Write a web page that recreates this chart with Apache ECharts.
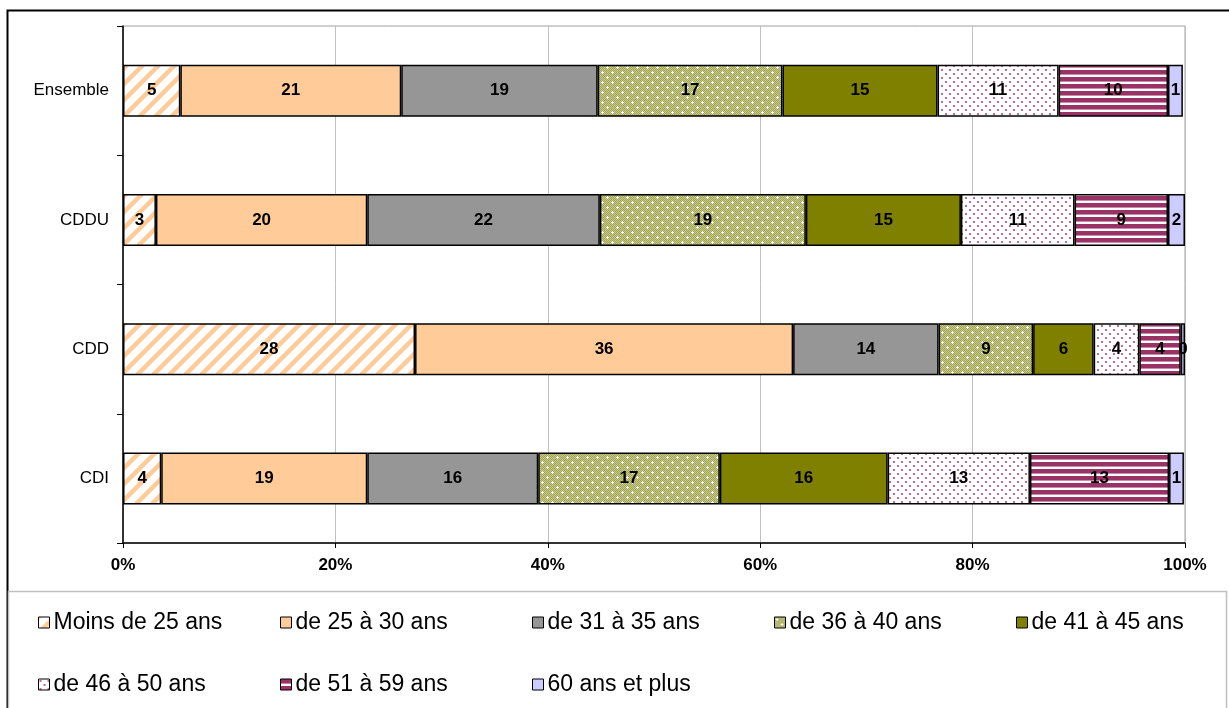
<!DOCTYPE html>
<html>
<head>
<meta charset="utf-8">
<script src="https://cdn.jsdelivr.net/npm/echarts@6/dist/echarts.min.js"></script>
<style>html,body{margin:0;padding:0;background:#fff}#c{width:1229px;height:708px}</style>
</head>
<body>
<div id="c"></div>
<script>
// ---- data ----
const categories = ['CDI', 'CDD', 'CDDU', 'Ensemble'];
const ageGroups = ['Moins de 25 ans', 'de 25 à 30 ans', 'de 31 à 35 ans', 'de 36 à 40 ans',
  'de 41 à 45 ans', 'de 46 à 50 ans', 'de 51 à 59 ans', '60 ans et plus'];
const sMoins25 = [3.6, 27.5, 3.1, 5.4];
const s25a30 = [19.4, 35.6, 19.9, 20.8];
const s31a35 = [16.1, 13.7, 21.9, 18.5];
const s36a40 = [17.1, 8.9, 19.4, 17.4];
const s41a45 = [15.8, 5.7, 14.6, 14.6];
const s46a50 = [13.4, 4.3, 10.7, 11.4];
const s51a59 = [13.1, 3.9, 8.8, 10.3];
const s60plus = [1.4, 0.4, 1.6, 1.4];
const xTicks = [0, 20, 40, 60, 80, 100];

const seriesValues = [sMoins25, s25a30, s31a35, s36a40, s41a45, s46a50, s51a59, s60plus];

// ---- patterns ----
function tile(w, h, draw) {
  const c = document.createElement('canvas');
  c.width = w; c.height = h;
  const g = c.getContext('2d');
  draw(g, w, h);
  return { image: c, repeat: 'repeat' };
}
const pDiag = tile(16, 16, (g, w, h) => {
  g.fillStyle = '#ffffff'; g.fillRect(0, 0, w, h);
  g.strokeStyle = '#FFCC99'; g.lineWidth = 4.5;
  g.beginPath();
  g.moveTo(-8, 8); g.lineTo(8, -8);
  g.moveTo(0, 16); g.lineTo(16, 0);
  g.moveTo(8, 24); g.lineTo(24, 8);
  g.stroke();
});
const pOlive = tile(10, 10, (g, w, h) => {
  g.fillStyle = '#C6C890'; g.fillRect(0, 0, w, h);
  g.fillStyle = '#A2A552';
  for (let y = 0; y < h; y++) for (let x = 0; x < w; x++) if ((x + y) % 2 === 0) g.fillRect(x, y, 1, 1);
  g.fillStyle = '#ffffff';
  [[2, 2], [7, 7]].forEach(([cx, cy]) => {
    g.fillRect(cx - 1, cy, 3, 1); g.fillRect(cx, cy - 1, 1, 3);
  });
});
const pDots = tile(8, 8, (g, w, h) => {
  g.fillStyle = '#ffffff'; g.fillRect(0, 0, w, h);
  g.fillStyle = '#C46A95';
  g.fillRect(1, 1, 2, 2); g.fillRect(5, 5, 2, 2);
});
const pStripes = tile(4, 7, (g, w, h) => {
  g.fillStyle = '#ffffff'; g.fillRect(0, 0, w, h);
  g.fillStyle = '#993366'; g.fillRect(0, 0, w, 4);
  g.fillStyle = '#C98BA8'; g.fillRect(0, 4, w, 1);
});
const fills = [pDiag, '#FFCC99', '#969696', pOlive, '#808000', pDots, pStripes, '#CCCCFF'];

const FONT = 'Liberation Sans, Arial, sans-serif';

const series = ageGroups.map((name, i) => ({
  name: name,
  type: 'bar',
  stack: 'total',
  barWidth: 52,
  data: seriesValues[i],
  itemStyle: { color: fills[i], borderColor: '#000', borderWidth: 1.5 },
  label: {
    show: true, position: 'inside', color: '#000', fontWeight: 'bold',
    fontSize: 17, fontFamily: FONT,
    formatter: p => Math.round(p.value)
  },
  emphasis: { disabled: true }
}));

const legendPos = [
  [38, 611], [280, 611], [532, 611], [774, 611], [1016, 611],
  [38, 673], [280, 673], [532, 673]
];
const legends = ageGroups.map((name, i) => ({
  data: [{ name: name, icon: 'rect' }],
  left: legendPos[i][0], top: legendPos[i][1],
  padding: 0, itemWidth: 11, itemHeight: 11, itemGap: 0,
  selectedMode: false,
  itemStyle: { borderColor: '#000', borderWidth: 1 },
  textStyle: { fontSize: 23, fontFamily: FONT, color: '#000', padding: [0, 0, 0, -1] }
}));

const chart = echarts.init(document.getElementById('c'), null, { renderer: 'canvas' });
chart.setOption({
  animation: false,
  backgroundColor: '#fff',
  grid: { left: 123, right: 44, top: 26, bottom: 165, show: true, borderColor: '#A0A0A0', borderWidth: 1, backgroundColor: 'transparent' },
  xAxis: {
    type: 'value', min: xTicks[0], max: xTicks[xTicks.length - 1], interval: xTicks[1] - xTicks[0],
    axisLine: { show: true, lineStyle: { color: '#000', width: 1.5 } },
    axisTick: { show: true, length: 5, lineStyle: { color: '#000' } },
    splitLine: { show: true, lineStyle: { color: '#C0C0C0', width: 1 } },
    axisLabel: { formatter: '{value}%', fontWeight: 'bold', fontSize: 17, fontFamily: FONT, color: '#000', margin: 14 }
  },
  yAxis: {
    type: 'category', data: categories,
    axisLine: { show: true, lineStyle: { color: '#000', width: 1.5 } },
    axisTick: { show: true, length: 6, lineStyle: { color: '#000' } },
    axisLabel: { fontSize: 17, fontFamily: FONT, color: '#000', margin: 14 }
  },
  legend: legends,
  series: series,
  graphic: [
    { type: 'rect', shape: { x: 7.5, y: 10.5, width: 1300, height: 800 }, style: { fill: 'transparent', stroke: '#000', lineWidth: 2 }, silent: true },
    { type: 'rect', shape: { x: 8.5, y: 591.5, width: 1218, height: 200 }, style: { fill: 'transparent', stroke: '#C0C0C0', lineWidth: 1.5 }, silent: true }
  ]
});
</script>
</body>
</html>
